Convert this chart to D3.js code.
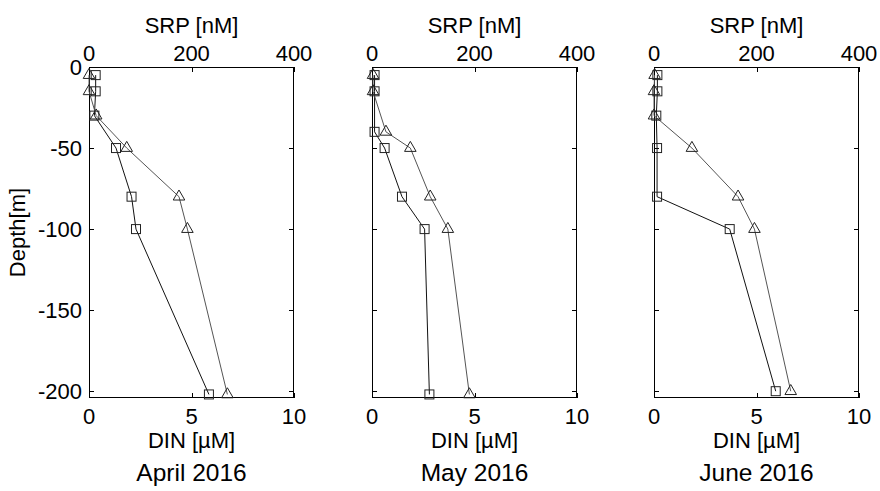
<!DOCTYPE html>
<html>
<head>
<meta charset="utf-8">
<script src="https://cdn.jsdelivr.net/npm/d3@7"></script>
<style>
  body { margin: 0; background: #fff; }
  svg { display: block; font-family: "Liberation Sans", Arial, sans-serif; }
</style>
</head>
<body>
<svg id="chart" width="880" height="491"></svg>
<script>
// ---- data ----
const months = ["April 2016", "May 2016", "June 2016"];
// depths (m, negative down) for each month
const depthApr = [-5, -15, -30, -50, -80, -100, -202];
const depthMay = [-5, -15, -40, -50, -80, -100, -202];
const depthJun = [-5, -15, -30, -50, -80, -100, -200];
// DIN (µM) — triangles, bottom axis
const dinApr = [0.0, 0.0, 0.35, 1.84, 4.39, 4.8, 6.75];
const dinMay = [0.05, 0.05, 0.68, 1.87, 2.84, 3.7, 4.75];
const dinJun = [0.03, 0.0, 0.0, 1.85, 4.1, 4.9, 6.67];
// SRP (nM) — squares, top axis
const srpApr = [13, 13, 10.5, 52.7, 83, 91.7, 234];
const srpMay = [5, 5, 5, 24.6, 58.5, 102.6, 112];
const srpJun = [6.6, 6.6, 4.5, 6, 6, 147.7, 237.5];
// axis ticks
const dinTicks = [0, 5, 10];
const srpTicks = [0, 200, 400];
const depthTicks = [0, -50, -100, -150, -200];

const depths = [depthApr, depthMay, depthJun];
const dins = [dinApr, dinMay, dinJun];
const srps = [srpApr, srpMay, srpJun];

// ---- layout ----
const svg = d3.select("#chart");
const lefts = [89, 372, 654];
const pw = 205, plotTop = 67, ph = 331;
const tickFont = 22, labelFont = 22, titleFont = 24.5;

const y = d3.scaleLinear().domain([-204.2, 0]).range([plotTop + ph, plotTop]);

months.forEach((m, i) => {
  const x0 = lefts[i];
  const xDin = d3.scaleLinear().domain([0, 10]).range([x0, x0 + pw]);
  const xSrp = d3.scaleLinear().domain([0, 400]).range([x0, x0 + pw]);
  const g = svg.append("g");

  // frame
  g.append("rect").attr("x", x0 + 0.5).attr("y", plotTop + 0.5)
    .attr("width", pw - 1).attr("height", ph - 1)
    .attr("fill", "none").attr("stroke", "#000").attr("stroke-width", 1);

  const tl = 5;
  // y ticks (left & right, inward)
  depthTicks.forEach(d => {
    const yy = Math.round(y(d)) + 0.5;
    g.append("line").attr("x1", x0).attr("x2", x0 + tl).attr("y1", yy).attr("y2", yy).attr("stroke", "#000");
    g.append("line").attr("x1", x0 + pw - tl).attr("x2", x0 + pw).attr("y1", yy).attr("y2", yy).attr("stroke", "#000");
    if (i === 0) {
      g.append("text").attr("x", x0 - 7).attr("y", y(d)).attr("dy", "0.36em")
        .attr("text-anchor", "end").attr("font-size", tickFont).text(d);
    }
  });
  // bottom ticks (DIN)
  dinTicks.forEach(v => {
    const xx = Math.round(xDin(v)) + 0.5;
    g.append("line").attr("x1", xx).attr("x2", xx).attr("y1", plotTop + ph - tl).attr("y2", plotTop + ph).attr("stroke", "#000");
    g.append("text").attr("x", xDin(v)).attr("y", plotTop + ph + 26)
      .attr("text-anchor", "middle").attr("font-size", tickFont).text(v);
  });
  // top ticks (SRP)
  srpTicks.forEach(v => {
    const xx = Math.round(xSrp(v)) + 0.5;
    g.append("line").attr("x1", xx).attr("x2", xx).attr("y1", plotTop).attr("y2", plotTop + tl).attr("stroke", "#000");
    g.append("text").attr("x", xSrp(v)).attr("y", plotTop - 6)
      .attr("text-anchor", "middle").attr("font-size", tickFont).text(v);
  });

  // axis labels
  g.append("text").attr("x", x0 + pw / 2).attr("y", 33)
    .attr("text-anchor", "middle").attr("font-size", labelFont).text("SRP [nM]");
  g.append("text").attr("x", x0 + pw / 2).attr("y", 448)
    .attr("text-anchor", "middle").attr("font-size", labelFont).text("DIN [µM]");
  g.append("text").attr("x", x0 + pw / 2).attr("y", 481)
    .attr("text-anchor", "middle").attr("font-size", titleFont).text(m);

  const dep = depths[i], din = dins[i], srp = srps[i];
  const triPts = dep.map((d, k) => [xDin(din[k]), y(d)]);
  const sqPts = dep.map((d, k) => [xSrp(srp[k]), y(d)]);
  const line = d3.line();

  // SRP line + squares
  g.append("path").attr("d", line(sqPts)).attr("fill", "none").attr("stroke", "#111").attr("stroke-width", 1);
  // DIN line + triangles
  g.append("path").attr("d", line(triPts)).attr("fill", "none").attr("stroke", "#555").attr("stroke-width", 1);

  const sq = 9;
  g.selectAll(".sq").data(sqPts).enter().append("rect")
    .attr("x", p => p[0] - sq / 2).attr("y", p => p[1] - sq / 2)
    .attr("width", sq).attr("height", sq)
    .attr("fill", "none").attr("stroke", "#222").attr("stroke-width", 1);

  const tri = d3.symbol().type(d3.symbolTriangle).size(58);
  g.selectAll(".tri").data(triPts).enter().append("path")
    .attr("d", tri)
    .attr("transform", p => `translate(${p[0]},${p[1]})`)
    .attr("fill", "none").attr("stroke", "#222").attr("stroke-width", 1);
});

// y axis label
svg.append("text")
  .attr("transform", `translate(25,${plotTop + ph / 2}) rotate(-90)`)
  .attr("text-anchor", "middle").attr("font-size", labelFont).text("Depth[m]");
</script>
</body>
</html>
